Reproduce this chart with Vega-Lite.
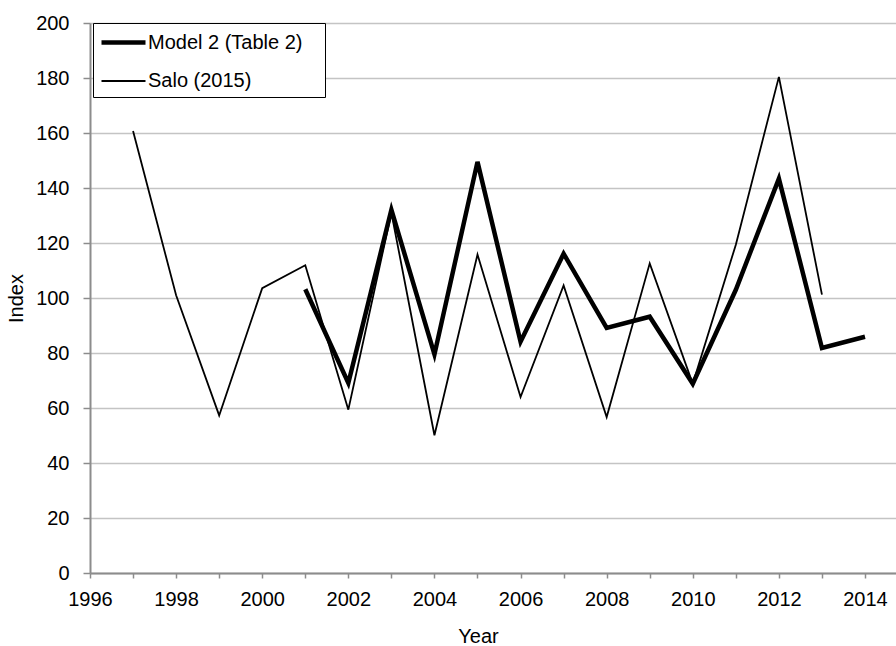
{
  "$schema": "https://vega.github.io/schema/vega-lite/v6.json",
  "autosize": "none",
  "width": 806,
  "height": 550,
  "padding": {"left": 90, "top": 23, "right": 0, "bottom": 73},
  "background": "white",
  "config": {
    "font": "Liberation Sans",
    "view": {"stroke": null},
    "axis": {
      "labelFont": "Liberation Sans",
      "titleFont": "Liberation Sans",
      "labelFontSize": 20,
      "titleFontSize": 20,
      "labelColor": "black",
      "titleColor": "black",
      "titleFontWeight": "normal",
      "domainColor": "#8c8c8c",
      "domainWidth": 2,
      "tickColor": "#8c8c8c",
      "tickWidth": 1.5,
      "gridColor": "#c4c4c4",
      "gridWidth": 1.5
    },
    "legend": {
      "labelFont": "Liberation Sans",
      "labelFontSize": 20,
      "labelColor": "black"
    }
  },
  "data": {
    "values": [
      {"year": 2001, "index": 103.2, "series": "Model 2 (Table 2)"},
      {"year": 2002, "index": 69.1, "series": "Model 2 (Table 2)"},
      {"year": 2003, "index": 132.1, "series": "Model 2 (Table 2)"},
      {"year": 2004, "index": 79.5, "series": "Model 2 (Table 2)"},
      {"year": 2005, "index": 149.5, "series": "Model 2 (Table 2)"},
      {"year": 2006, "index": 84.1, "series": "Model 2 (Table 2)"},
      {"year": 2007, "index": 116.1, "series": "Model 2 (Table 2)"},
      {"year": 2008, "index": 89.1, "series": "Model 2 (Table 2)"},
      {"year": 2009, "index": 93.2, "series": "Model 2 (Table 2)"},
      {"year": 2010, "index": 68.8, "series": "Model 2 (Table 2)"},
      {"year": 2011, "index": 103.0, "series": "Model 2 (Table 2)"},
      {"year": 2012, "index": 143.4, "series": "Model 2 (Table 2)"},
      {"year": 2013, "index": 81.8, "series": "Model 2 (Table 2)"},
      {"year": 2014, "index": 85.9, "series": "Model 2 (Table 2)"},
      {"year": 1997, "index": 160.7, "series": "Salo (2015)"},
      {"year": 1998, "index": 101.0, "series": "Salo (2015)"},
      {"year": 1999, "index": 57.3, "series": "Salo (2015)"},
      {"year": 2000, "index": 103.6, "series": "Salo (2015)"},
      {"year": 2001, "index": 111.9, "series": "Salo (2015)"},
      {"year": 2002, "index": 59.4, "series": "Salo (2015)"},
      {"year": 2003, "index": 131.0, "series": "Salo (2015)"},
      {"year": 2004, "index": 50.1, "series": "Salo (2015)"},
      {"year": 2005, "index": 115.8, "series": "Salo (2015)"},
      {"year": 2006, "index": 64.0, "series": "Salo (2015)"},
      {"year": 2007, "index": 104.6, "series": "Salo (2015)"},
      {"year": 2008, "index": 56.7, "series": "Salo (2015)"},
      {"year": 2009, "index": 112.6, "series": "Salo (2015)"},
      {"year": 2010, "index": 68.8, "series": "Salo (2015)"},
      {"year": 2011, "index": 119.4, "series": "Salo (2015)"},
      {"year": 2012, "index": 180.4, "series": "Salo (2015)"},
      {"year": 2013, "index": 101.2, "series": "Salo (2015)"}
    ]
  },
  "mark": {"type": "line", "color": "black", "clip": true, "strokeJoin": "miter"},
  "encoding": {
    "x": {
      "field": "year",
      "type": "quantitative",
      "scale": {"domain": [1996, 2014.72], "nice": false, "zero": false},
      "axis": {
        "title": "Year",
        "values": [1996, 1997, 1998, 1999, 2000, 2001, 2002, 2003, 2004, 2005, 2006, 2007, 2008, 2009, 2010, 2011, 2012, 2013, 2014],
        "labelExpr": "datum.value % 2 == 0 ? datum.value + '' : ''",
        "grid": false,
        "tickSize": 5,
        "labelPadding": 11,
        "labelOverlap": false,
        "labelFlush": false,
        "titleX": 388,
        "titleY": 53,
        "titleBaseline": "top"
      }
    },
    "y": {
      "field": "index",
      "type": "quantitative",
      "scale": {"domain": [0, 200], "nice": false},
      "axis": {
        "title": "Index",
        "values": [0, 20, 40, 60, 80, 100, 120, 140, 160, 180, 200],
        "tickSize": 7,
        "labelPadding": 14,
        "titleX": -64,
        "titleY": 275
      }
    },
    "strokeWidth": {
      "field": "series",
      "type": "ordinal",
      "scale": {"domain": ["Model 2 (Table 2)", "Salo (2015)"], "range": [4.5, 1.8]},
      "legend": {
        "title": null,
        "orient": "none",
        "legendX": 3,
        "legendY": 0,
        "symbolType": "M-2,0H2",
        "symbolSize": 484,
        "symbolStrokeColor": "black",
        "symbolOffset": 11,
        "labelOffset": 11,
        "labelLimit": 400,
        "labelExpr": "datum.label + '\u2002\u00a0\u200b'",
        "rowPadding": 16,
        "padding": 6,
        "strokeColor": "black",
        "fillColor": "white"
      }
    }
  }
}
